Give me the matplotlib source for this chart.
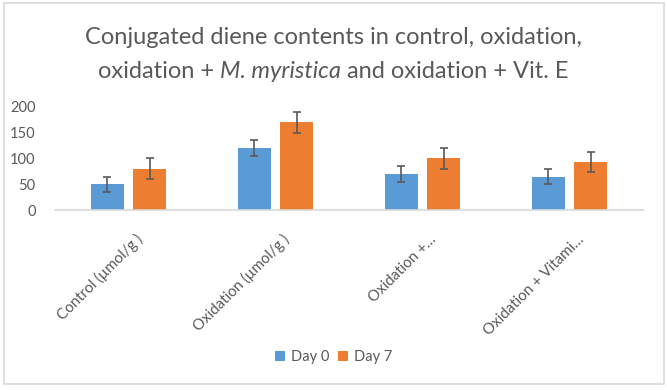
import matplotlib
matplotlib.use("Agg")
import matplotlib.pyplot as plt
import matplotlib.transforms as mtransforms
from matplotlib.patches import Rectangle
import numpy as np

categories = ["Control (µmol/g )", "Oxidation (µmol/g )", "Oxidation +…", "Oxidation + Vitami…"]
day0 = [50, 120, 70, 65]
day7 = [80, 170, 100, 93]
day0_err = [15, 15, 15, 15]
day7_err = [20, 20, 20, 20]
series_names = ["Day 0", "Day 7"]
yticks = [0, 50, 100, 150, 200]

FONT = "Lato"
GREY = "#595959"
TITLE_GREY = "#595959"
C0 = "#5B9BD5"
C1 = "#ED7D31"

W, H = 667, 390
fig = plt.figure(figsize=(W / 100, H / 100), dpi=100)
fig.patch.set_facecolor("white")

# outer chart border
fig.add_artist(Rectangle((4 / W, 1 - 384 / H), (664 - 4) / W, (384 - 3) / H,
                         transform=fig.transFigure, fill=False,
                         edgecolor="#d9d9d9", linewidth=1.2))

ax = fig.add_axes([55 / W, 1 - 210 / H, (643 - 55) / W, 103 / H])
x = np.arange(len(categories))
bw = 0.22
off = 0.143
ek = dict(ecolor="#595959", elinewidth=1.2, capsize=3, capthick=1.2)
ax.bar(x - off, day0, bw, color=C0, label=series_names[0], yerr=day0_err, error_kw=ek)
ax.bar(x + off, day7, bw, color=C1, label=series_names[1], yerr=day7_err, error_kw=ek)
ax.set_xlim(-0.5, len(categories) - 0.5)
ax.set_ylim(0, 200)
ax.set_yticks(yticks)
for s in ["top", "right", "left"]:
    ax.spines[s].set_visible(False)
ax.spines["bottom"].set_color("#d9d9d9")
ax.spines["bottom"].set_linewidth(1.2)
ax.tick_params(axis="both", length=0, colors=GREY, labelsize=10.5)
ax.tick_params(axis="y", pad=14)
for lab in ax.get_yticklabels():
    lab.set_fontfamily(FONT)
ax.set_xticks(x)
ax.set_xticklabels([])

# category labels, rotated 45 degrees, anchored at their end
offset = mtransforms.ScaledTranslation(12 / 100, -27 / 100, fig.dpi_scale_trans)
for xi, lab in zip(x, categories):
    ax.text(xi, 0, lab, transform=ax.get_xaxis_transform() + offset,
            rotation=45, rotation_mode="anchor", ha="right", va="center",
            fontsize=10.8, fontfamily=FONT, color=GREY)

# Title
fig.text(0.5, 1 - 38 / H, "Conjugated diene contents in control, oxidation,",
         ha="center", va="center", fontsize=17, fontfamily=FONT, color=TITLE_GREY)
parts = [("oxidation + ", "normal"), ("M. myristica", "italic"),
         (" and oxidation + Vit. E", "normal")]
fig.canvas.draw()
r = fig.canvas.get_renderer()
texts = []
widths = []
for s, st in parts:
    t = fig.text(0, 1 - 71 / H, s, ha="left", va="center", fontsize=17,
                 fontfamily=FONT, style=st, color=TITLE_GREY)
    bb = t.get_window_extent(r)
    texts.append(t)
    widths.append(bb.width)
total = sum(widths)
xstart = (W - total) / 2
for t, w in zip(texts, widths):
    t.set_x(xstart / W)
    xstart += w

# Legend
ax.legend(loc="center", bbox_to_anchor=(0.5, 1 - 357 / H), bbox_transform=fig.transFigure,
          ncol=2, frameon=False, handlelength=0.7, handleheight=0.7,
          handletextpad=0.4, columnspacing=0.6,
          prop={"family": FONT, "size": 10.5}, labelcolor=GREY)

fig.savefig("out.png", dpi=100, facecolor="white")
